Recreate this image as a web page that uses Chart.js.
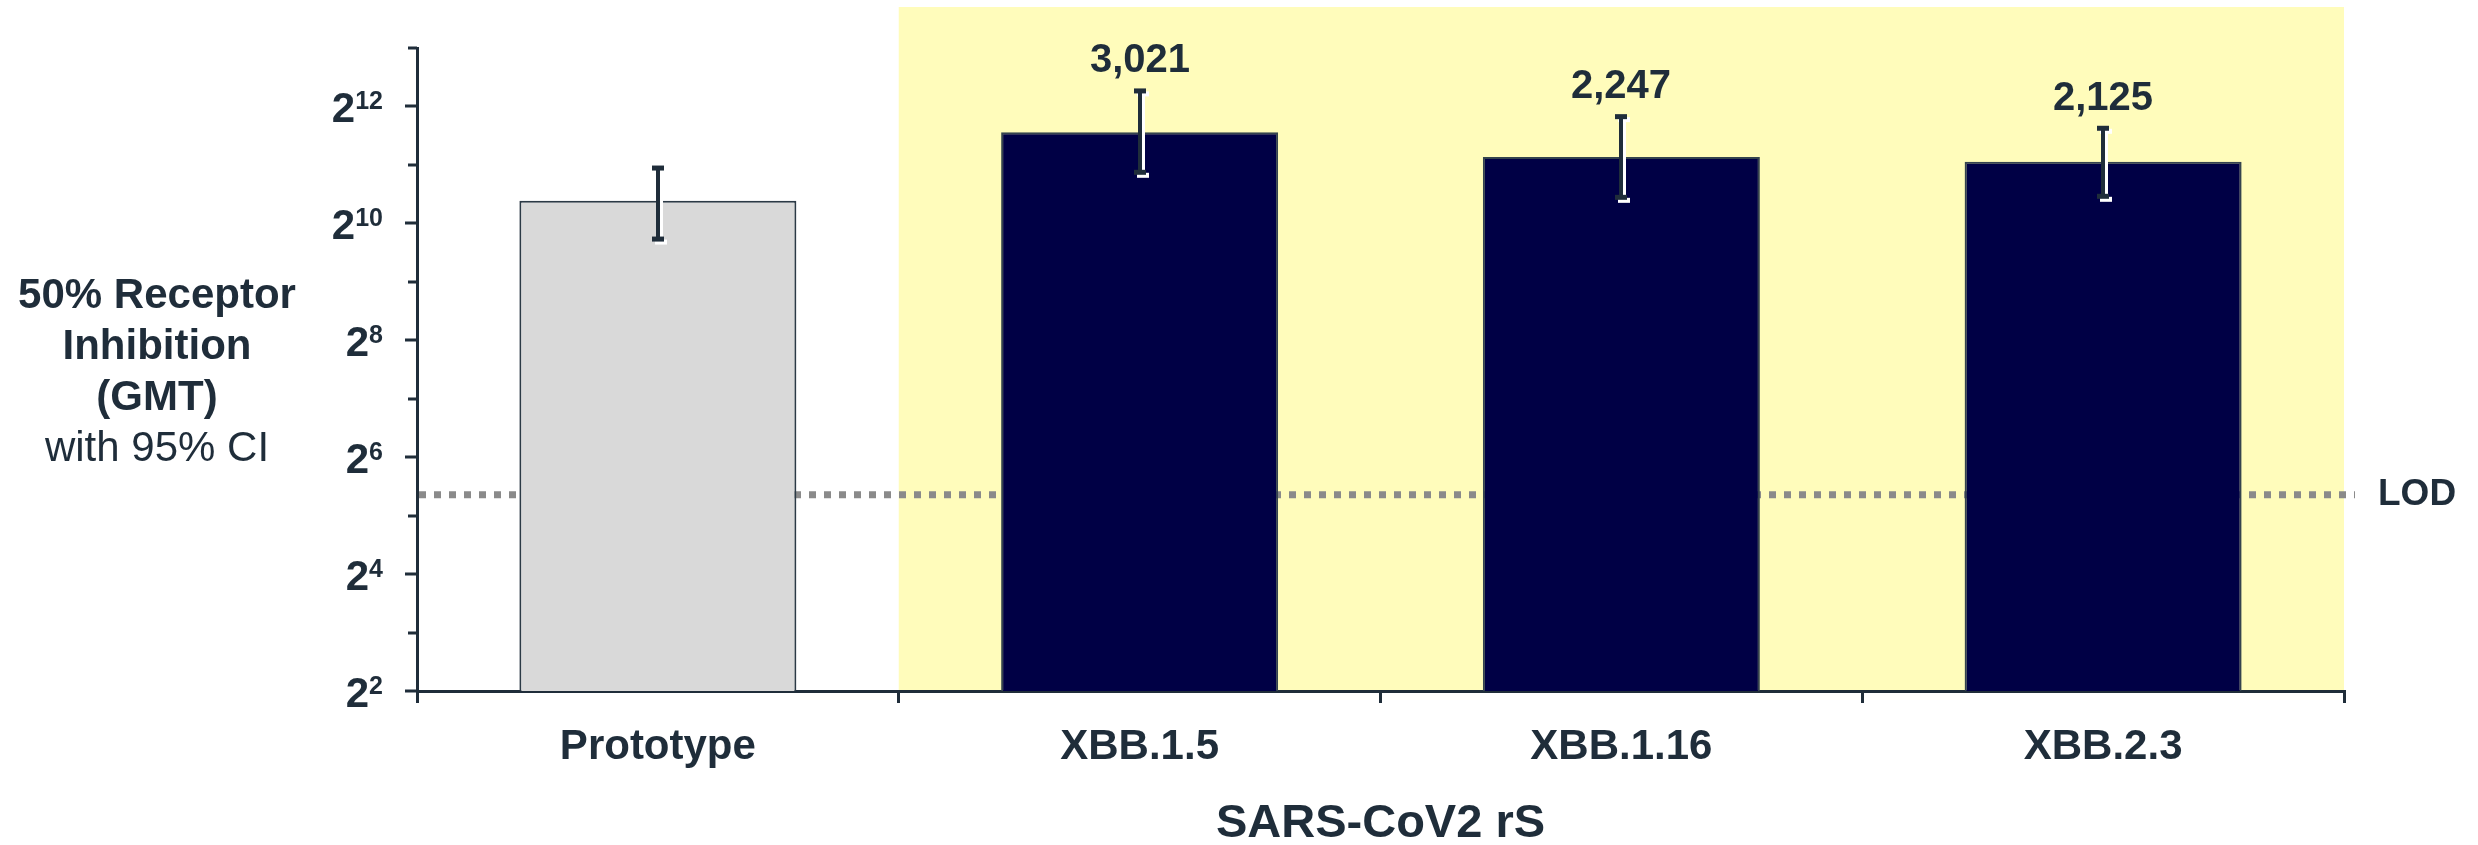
<!DOCTYPE html>
<html>
<head>
<meta charset="utf-8">
<script src="https://cdn.jsdelivr.net/npm/chart.js@4.4.0/dist/chart.umd.min.js"></script>
<style>
  html, body { margin: 0; padding: 0; background: #ffffff; }
  #chart { display: block; }
</style>
</head>
<body>
<canvas id="chart" width="2478" height="845"></canvas>
<script>
const categories = ['Prototype', 'XBB.1.5', 'XBB.1.16', 'XBB.2.3'];
const gmt = [1337, 3021, 2247, 2125];
const ciLow = [845, 1865, 1386, 1403];
const ciHigh = [1985, 4953, 3651, 3181];
const gmtLabels = ['', '3,021', '2,247', '2,125'];
const barColors = ['#d9d9d9', '#000045', '#000045', '#000045'];
const majorPowers = [2, 4, 6, 8, 10, 12];
const minorPowers = [3, 5, 7, 9, 11, 13];
const lod = 41;
const highlightFrom = 1; // XBB variants sit on the yellow panel
const yTitleLines = ['50% Receptor', 'Inhibition', '(GMT)', 'with 95% CI'];

const ink = '#1f2d3a';
const family = '"Liberation Sans", Arial, sans-serif';

function drawWhisker(ctx, cx, top, bot, color) {
    ctx.fillStyle = color;
    ctx.fillRect(cx - 2, top, 4, bot - top);
    ctx.fillRect(cx - 6, top - 2, 12, 5);
    ctx.fillRect(cx - 6, bot - 3, 12, 5);
}

const extras = {
    id: 'extras',
    beforeDraw(chart) {
        const { ctx, chartArea } = chart;
        const x = chart.scales.x;
        const left = (x.getPixelForValue(highlightFrom - 1) + x.getPixelForValue(highlightFrom)) / 2;
        ctx.save();
        ctx.fillStyle = '#fffcbb';
        ctx.fillRect(left, chartArea.top - 41, chartArea.right - left, chartArea.bottom - chartArea.top + 41);
        ctx.restore();
    },
    beforeDatasetsDraw(chart) {
        const { ctx, chartArea } = chart;
        const ly = chart.scales.y.getPixelForValue(lod);
        ctx.save();
        ctx.strokeStyle = '#8a8a8a';
        ctx.lineWidth = 7;
        ctx.setLineDash([7, 8]);
        ctx.beginPath();
        ctx.moveTo(chartArea.left + 2, ly);
        ctx.lineTo(chartArea.right + 11, ly);
        ctx.stroke();
        ctx.restore();
    },
    afterDatasetsDraw(chart) {
        const { ctx } = chart;
        const x = chart.scales.x;
        const y = chart.scales.y;
        ctx.save();
        gmt.forEach((v, i) => {
            const cx = Math.round(x.getPixelForValue(i));
            const top = y.getPixelForValue(ciHigh[i]);
            const bot = y.getPixelForValue(ciLow[i]);
            drawWhisker(ctx, cx + 3, top + 3, bot + 3, '#ffffff');
            drawWhisker(ctx, cx, top, bot, ink);
            if (gmtLabels[i]) {
                ctx.fillStyle = ink;
                ctx.font = 'bold 40px ' + family;
                ctx.textAlign = 'center';
                ctx.textBaseline = 'alphabetic';
                ctx.fillText(gmtLabels[i], cx, top - 18);
            }
        });
        ctx.restore();
    },
    afterDraw(chart) {
        const { ctx, chartArea } = chart;
        const y = chart.scales.y;
        const axisX = chartArea.left;
        ctx.save();
        ctx.fillStyle = ink;
        ctx.textAlign = 'right';
        ctx.textBaseline = 'alphabetic';
        majorPowers.forEach(p => {
            const ty = Math.round(y.getPixelForValue(2 ** p));
            ctx.fillRect(axisX - 12, ty - 1.5, 12, 3);
            ctx.font = 'bold 25px ' + family;
            const sup = String(p);
            const supW = ctx.measureText(sup).width;
            ctx.fillText(sup, axisX - 34, ty + 3);
            ctx.font = 'bold 42px ' + family;
            ctx.fillText('2', axisX - 34 - supW, ty + 16);
        });
        minorPowers.forEach(p => {
            const ty = Math.round(y.getPixelForValue(2 ** p));
            ctx.fillRect(axisX - 9, ty - 1.5, 9, 3);
        });

        // y axis title, last line not bold
        const midY = (chartArea.top + chartArea.bottom) / 2;
        ctx.textAlign = 'center';
        yTitleLines.forEach((line, i) => {
            ctx.font = (i < 3 ? 'bold ' : '') + '42px ' + family;
            ctx.fillText(line, 157, midY - 62 + i * 51);
        });

        ctx.font = 'bold 37px ' + family;
        ctx.textAlign = 'left';
        ctx.textBaseline = 'middle';
        ctx.fillText('LOD', chartArea.right + 34, y.getPixelForValue(lod));
        ctx.restore();
    }
};

new Chart(document.getElementById('chart'), {
    type: 'bar',
    data: {
        labels: categories,
        datasets: [{
            data: gmt,
            backgroundColor: barColors,
            borderColor: ['#2c3a46', '#34434e', '#34434e', '#34434e'],
            borderWidth: 2,
            borderSkipped: 'start',
            categoryPercentage: 1,
            barPercentage: 0.575
        }]
    },
    options: {
        responsive: false,
        animation: false,
        devicePixelRatio: 1,
        layout: { padding: { top: 48, right: 134, left: 0, bottom: 0 } },
        plugins: {
            legend: { display: false },
            tooltip: { enabled: false }
        },
        scales: {
            x: {
                grid: { offset: true, drawOnChartArea: false, drawTicks: true, tickLength: 12, lineWidth: 3, color: ink },
                border: { display: true, color: ink, width: 3 },
                ticks: { color: ink, font: { family: family, size: 42, weight: 'bold' }, padding: 19, maxRotation: 0 },
                title: {
                    display: true,
                    text: 'SARS-CoV2 rS',
                    color: ink,
                    font: { family: family, size: 47, weight: 'bold', lineHeight: 0.9 },
                    padding: { top: 0, bottom: 0 }
                },
                afterFit(scale) { scale.height = 154; }
            },
            y: {
                type: 'logarithmic',
                min: 4,
                max: 8192,
                grid: { display: false },
                border: { display: true, color: ink, width: 3 },
                ticks: { display: false },
                afterFit(scale) { scale.width = 417; }
            }
        }
    },
    plugins: [extras]
});
</script>
</body>
</html>
